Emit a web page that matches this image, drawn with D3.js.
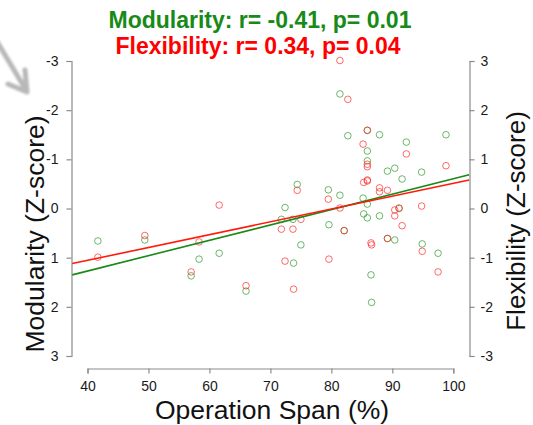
<!DOCTYPE html>
<html>
<head>
<meta charset="utf-8">
<script src="https://cdn.jsdelivr.net/npm/d3@7"></script>
<style>
  html, body { margin: 0; padding: 0; background: #fff; }
  svg { display: block; }
  text { font-family: "Liberation Sans", Arial, sans-serif; }
</style>
</head>
<body>
<div id="chart"></div>
<script>
// ---- data ----
const span = [41.7, 49.4, 57.0, 58.3, 61.6, 66.0, 71.8, 72.4, 73.7, 73.8,
              74.4, 75.0, 79.5, 79.6, 81.4, 81.4, 82.1, 82.7, 85.2, 85.3,
              85.9, 85.9, 85.9, 85.9, 85.9, 86.5, 86.6, 87.9, 87.9, 89.2,
              89.2, 90.4, 90.4, 91.1, 91.6, 92.3, 94.8, 94.9, 97.5, 98.8];
const modularity = [0.66, 0.64, 1.37, 1.03, 0.91, 1.68, 0.22, -0.02, 0.22, 1.11,
                    -0.49, 0.74, -0.38, 0.33, -2.33, -0.27, 0.45, -1.48, -0.21, 0.11,
                    -1.59, -1.17, -0.97, -0.09, 0.19, 1.35, 1.91, -1.50, 0.15, -0.76,
                    0.61, -0.82, 0.64, 0.00, -0.60, -1.35, -0.74, 0.72, 0.91, -1.50];
const flexibility = [-0.99, -0.55, -1.29, -0.68, 0.07, -1.57, -0.42, -1.07, -0.42, -1.64,
                     0.37, -0.22, 0.19, -1.03, 3.01, 0.01, -0.45, 2.22, 1.31, 0.53,
                     1.59, 0.90, 0.85, 0.58, 0.56, -0.70, -0.74, 0.42, 0.34, 0.37,
                     -0.61, -0.03, -0.15, 0.01, -0.35, 1.11, 0.05, -0.87, -1.29, 0.87];
const fitSpan = [37.5, 102.6];
const modularityFit = [1.35, -0.685];
const flexibilityFit = [-1.12, 0.58];
const xTicks = [40, 50, 60, 70, 80, 90, 100];
const yTicks = [-3, -2, -1, 0, 1, 2, 3];
const titleLines = ["Modularity: r= -0.41, p= 0.01", "Flexibility: r= 0.34, p= 0.04"];

// ---- drawing ----
const W = 533, H = 425;
const svg = d3.select("#chart").append("svg").attr("width", W).attr("height", H);

const x = d3.scaleLinear().domain([40, 100]).range([87.5, 453.3]);
const yMod = d3.scaleLinear().domain([-3, 3]).range([61, 356]);
const yFlex = d3.scaleLinear().domain([3, -3]).range([61, 356]);

const GREEN = "#178a17", RED = "#ff1a0a";
const AXIS = "#8c8c8c";

// decorative gray arrow (top-left)
const defs = svg.append("defs");
defs.append("filter").attr("id", "soft").append("feGaussianBlur").attr("stdDeviation", 0.9);
const arrow = svg.append("g").attr("filter", "url(#soft)")
  .attr("stroke", "#b8b8b8").attr("stroke-width", 5).attr("fill", "none")
  .attr("stroke-linecap", "round").attr("stroke-linejoin", "round");
arrow.append("path").attr("d", "M-4,40 L26,90");
arrow.append("path").attr("d", "M8,84 L27,92 L25,70");

// axes
function styleAxis(g) {
  g.selectAll(".domain").attr("stroke", AXIS).attr("stroke-width", 1.2);
  g.selectAll(".tick line").attr("stroke", AXIS).attr("stroke-width", 1.2);
  g.selectAll(".tick text").attr("fill", "#1a1a1a").style("font-size", "14px")
    .style("font-family", "'Liberation Sans', Arial, sans-serif");
}
const fmt = d => String(d);

svg.append("g").attr("transform", "translate(0,368.5)")
  .call(d3.axisBottom(x).tickValues(xTicks).tickFormat(fmt).tickSize(5).tickSizeOuter(5).tickPadding(8))
  .call(styleAxis);

svg.append("g").attr("transform", "translate(71.5,0)")
  .call(d3.axisLeft(yMod).tickValues(yTicks).tickFormat(fmt).tickSize(5).tickSizeOuter(5).tickPadding(8))
  .call(styleAxis);

svg.append("g").attr("transform", "translate(469.5,0)")
  .call(d3.axisRight(yFlex).tickValues(yTicks).tickFormat(fmt).tickSize(5).tickSizeOuter(5).tickPadding(6))
  .call(styleAxis);

// points
const pts = span.map((s, i) => ({ s, m: modularity[i], f: flexibility[i] }));
svg.append("g").selectAll("circle").data(pts).join("circle")
  .attr("cx", d => x(d.s)).attr("cy", d => yMod(d.m)).attr("r", 3.3)
  .attr("fill", "none").attr("stroke", "#2e9a2e").attr("stroke-opacity", 0.7).attr("stroke-width", 1);
svg.append("g").selectAll("circle").data(pts).join("circle")
  .attr("cx", d => x(d.s)).attr("cy", d => yFlex(d.f)).attr("r", 3.3)
  .attr("fill", "none").attr("stroke", "#ff2a2a").attr("stroke-opacity", 0.7).attr("stroke-width", 1);

// fit lines
const fitModPts = fitSpan.map((s, i) => [x(s), yMod(modularityFit[i])]);
const fitFlexPts = fitSpan.map((s, i) => [x(s), yFlex(flexibilityFit[i])]);
svg.append("path").attr("d", d3.line()(fitModPts)).attr("stroke", GREEN).attr("stroke-width", 1.6).attr("fill", "none");
svg.append("path").attr("d", d3.line()(fitFlexPts)).attr("stroke", RED).attr("stroke-width", 1.6).attr("fill", "none");

// titles
svg.append("text").attr("x", 260).attr("y", 28).attr("text-anchor", "middle")
  .style("font-size", "23px").style("font-weight", "bold").attr("fill", GREEN).text(titleLines[0]);
svg.append("text").attr("x", 258).attr("y", 54).attr("text-anchor", "middle")
  .style("font-size", "23px").style("font-weight", "bold").attr("fill", "#ff0000").text(titleLines[1]);

// axis titles
svg.append("text").attr("x", 272).attr("y", 419).attr("text-anchor", "middle")
  .style("font-size", "26.5px").attr("fill", "#111").text("Operation Span (%)");
svg.append("text").attr("transform", "translate(44,234) rotate(-90)").attr("text-anchor", "middle")
  .style("font-size", "26.5px").attr("fill", "#111").text("Modularity (Z-score)");
svg.append("text").attr("transform", "translate(525,221) rotate(-90)").attr("text-anchor", "middle")
  .style("font-size", "26px").attr("fill", "#111").text("Flexibility (Z-score)");
</script>
</body>
</html>
